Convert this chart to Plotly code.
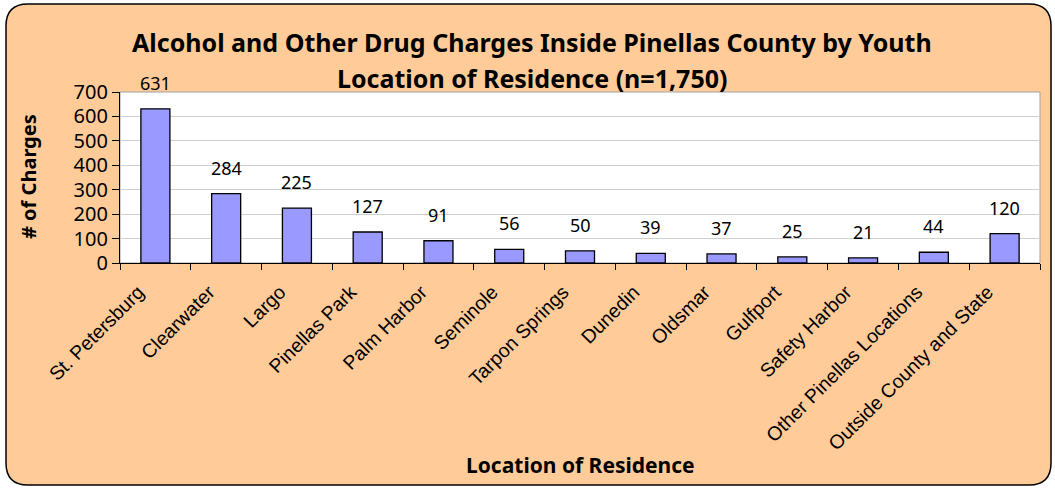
import plotly.graph_objects as go

categories = ["St. Petersburg", "Clearwater", "Largo", "Pinellas Park", "Palm Harbor",
              "Seminole", "Tarpon Springs", "Dunedin", "Oldsmar", "Gulfport",
              "Safety Harbor", "Other Pinellas Locations", "Outside County and State"]
charges = [631, 284, 225, 127, 91, 56, 50, 39, 37, 25, 21, 44, 120]
y_ticks = [0, 100, 200, 300, 400, 500, 600, 700]

W, H = 1055, 489
ML, MR, MT, MB = 120, 15, 92, 226
PW, PH = W - ML - MR, H - MT - MB

def px(x):
    return (x - ML) / PW

def py(y):
    return (H - MB - y) / PH

def rounded_rect(x0, y0, x1, y1, r):
    pts = []
    pts.append(f"M {px(x0 + r)} {py(y0)}")
    pts.append(f"L {px(x1 - r)} {py(y0)}")
    pts.append(f"Q {px(x1)} {py(y0)} {px(x1)} {py(y0 + r)}")
    pts.append(f"L {px(x1)} {py(y1 - r)}")
    pts.append(f"Q {px(x1)} {py(y1)} {px(x1 - r)} {py(y1)}")
    pts.append(f"L {px(x0 + r)} {py(y1)}")
    pts.append(f"Q {px(x0)} {py(y1)} {px(x0)} {py(y1 - r)}")
    pts.append(f"L {px(x0)} {py(y0 + r)}")
    pts.append(f"Q {px(x0)} {py(y0)} {px(x0 + r)} {py(y0)}")
    pts.append("Z")
    return " ".join(pts)

NUM_FONT = "Noto Sans, DejaVu Sans, sans-serif"
fig = go.Figure()
fig.add_trace(go.Bar(
    x=categories, y=charges,
    marker=dict(color="#9999FF", line=dict(color="black", width=1.3)),
    hoverinfo="x+y",
))

annotations = []
for c, v in zip(categories, charges):
    annotations.append(dict(x=c, y=v, xref="x", yref="y", text=str(v), showarrow=False,
                            yanchor="bottom", yshift=12,
                            font=dict(family=NUM_FONT, size=18, color="black")))

annotations += [
    dict(text="<b>Alcohol and Other Drug Charges Inside Pinellas County by Youth</b>",
         x=px(532), y=py(42), xref="paper", yref="paper", showarrow=False,
         xanchor="center", yanchor="middle",
         font=dict(family=NUM_FONT, size=25, color="black")),
    dict(text="<b>Location of Residence (n=1,750)</b>",
         x=px(532), y=py(78), xref="paper", yref="paper", showarrow=False,
         xanchor="center", yanchor="middle",
         font=dict(family=NUM_FONT, size=25, color="black")),
    dict(text="<b># of Charges</b>", textangle=-90,
         x=px(28), y=py(177), xref="paper", yref="paper", showarrow=False,
         xanchor="center", yanchor="middle",
         font=dict(family=NUM_FONT, size=20, color="black")),
    dict(text="<b>Location of Residence</b>",
         x=px(580), y=py(465), xref="paper", yref="paper", showarrow=False,
         xanchor="center", yanchor="middle",
         font=dict(family=NUM_FONT, size=21, color="black")),
]

shapes = [
    dict(type="path", path=rounded_rect(6, 4, 1051, 485, 22), xref="paper", yref="paper",
         fillcolor="#FFCC99", line=dict(color="black", width=1.5), layer="below"),
    dict(type="rect", x0=0, x1=1, y0=0, y1=1, xref="paper", yref="paper",
         fillcolor="white", line=dict(color="#A0A0A0", width=1), layer="below"),
]

fig.update_layout(
    width=W, height=H,
    margin=dict(l=ML, r=MR, t=MT, b=MB, autoexpand=False),
    paper_bgcolor="white",
    plot_bgcolor="rgba(0,0,0,0)",
    showlegend=False,
    bargap=0.59,
    shapes=shapes,
    annotations=annotations,
    xaxis=dict(
        tickangle=-45,
        tickfont=dict(family="Liberation Sans, Arial, sans-serif", size=19.5, color="black"),
        showline=True, linecolor="black", linewidth=1.3,
        ticks="outside", tickson="boundaries", ticklen=6, tickcolor="black",
        ticklabelshift=-17, ticklabelstandoff=9,
        showgrid=False, automargin=False,
    ),
    yaxis=dict(
        range=[0, 700], tickvals=y_ticks,
        tickfont=dict(family=NUM_FONT, size=20, color="black"),
        showline=True, linecolor="black", linewidth=1.3,
        ticks="outside", ticklen=7, tickcolor="black",
        showgrid=True, gridcolor="#CFCFCF", gridwidth=1.2,
        zeroline=False, automargin=False,
    ),
)

fig.write_html("out.html", config={"displayModeBar": False},
               post_script="document.body.style.margin='0';document.body.style.padding='0';")
